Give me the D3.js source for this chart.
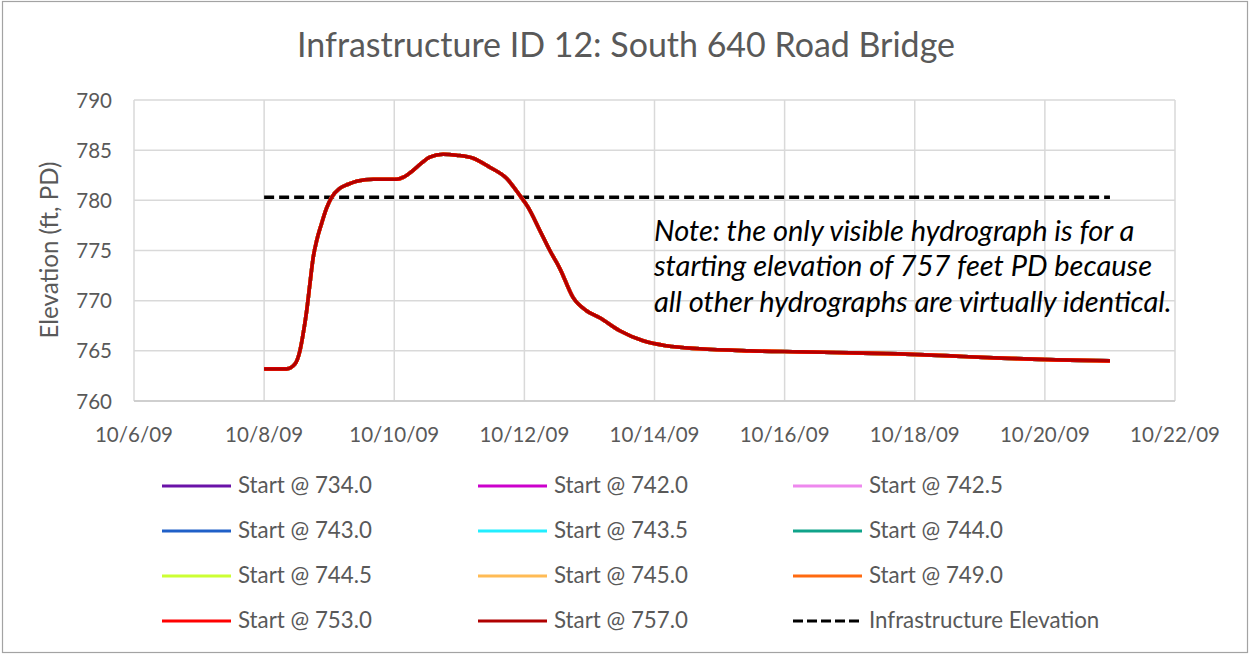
<!DOCTYPE html>
<html>
<head>
<meta charset="utf-8">
<script src="https://cdn.jsdelivr.net/npm/d3@7/dist/d3.min.js"></script>
<style>
  html, body { margin: 0; padding: 0; background: #fff; }
  svg { display: block; }
  text { font-family: Lato, "Open Sans", sans-serif; }
</style>
</head>
<body>
<svg id="chart" width="1249" height="655"></svg>
<script>
// Hydrograph at the South 640 Road Bridge, starting 10/8/09 00:00
const hoursFromStart = [0, 4, 8.3, 11.4, 13.2, 14.4, 15.7, 16.9, 18.1, 19.4, 21.2, 23.0, 24.9, 27.9, 31, 34.1,
  40.2, 48.8, 51.3, 55.0, 58, 61.1, 66.0, 71.0, 77.1, 83.2, 89.4, 94.3, 97.4, 101.7, 105.4, 109.1,
  114.0, 118.9, 123.8, 131.2, 139.8, 148.4, 160.7, 179.1, 197.5, 216, 234, 253, 269, 292, 312];
const elevation = [763.2, 763.2, 763.2, 763.7, 765.0, 766.7, 769.0, 771.7, 774.3, 776.0, 777.7, 779.2, 780.3, 781.2, 781.6, 781.9,
  782.1, 782.1, 782.3, 783.0, 783.7, 784.3, 784.6, 784.5, 784.2, 783.3, 782.2, 780.5, 779.3, 777.0, 775.0, 773.2,
  770.3, 769.0, 768.3, 767.0, 766.0, 765.5, 765.2, 765.0, 764.9, 764.8, 764.7, 764.5, 764.3, 764.1, 764.0];

// Starting-elevation scenarios; all produce the same hydrograph
const seriesNames = ["Start @ 734.0", "Start @ 742.0", "Start @ 742.5", "Start @ 743.0", "Start @ 743.5", "Start @ 744.0",
  "Start @ 744.5", "Start @ 745.0", "Start @ 749.0", "Start @ 753.0", "Start @ 757.0"];
const seriesColors = ["#6a12a8", "#cc00cc", "#ee88ee", "#2060c8", "#22eeff", "#10a38a",
  "#ccff33", "#ffbb55", "#ff6a10", "#ff0000", "#b00000"];

const infraElevation = 780.3;
const infraName = "Infrastructure Elevation";
const infraStartHour = 0, infraEndHour = 312;

const xTickLabels = ["10/6/09", "10/8/09", "10/10/09", "10/12/09", "10/14/09", "10/16/09", "10/18/09", "10/20/09", "10/22/09"];
const yTicks = [760, 765, 770, 775, 780, 785, 790];

const titleText = "Infrastructure ID 12: South 640 Road Bridge";
const yTitle = "Elevation (ft, PD)";
const noteLines = ["Note: the only visible hydrograph is for a",
  "starting elevation of 757 feet PD because",
  "all other hydrographs are virtually identical."];

const parseDate = d3.timeParse("%m/%d/%y");
const xTicks = xTickLabels.map(parseDate);
const startDate = parseDate("10/8/09");

const svg = d3.select("#chart");
const plot = { left: 134, right: 1175, top: 100, bottom: 401 };

const x = d3.scaleTime().domain(d3.extent(xTicks)).range([plot.left, plot.right]);
const y = d3.scaleLinear().domain(d3.extent(yTicks)).range([plot.bottom, plot.top]);
const toDate = h => new Date(startDate.getTime() + h * 3600e3);

// font size that makes a sample string span the given width
function fitSize(str, width, opts = {}) {
  const t = svg.append("text").attr("font-size", 100).text(str);
  if (opts.italic) t.attr("font-style", "italic");
  const w = t.node().getComputedTextLength();
  t.remove();
  return 100 * width / w;
}

// outer frame
svg.append("rect").attr("x", 2.5).attr("y", 1.5).attr("width", 1245).attr("height", 651)
  .attr("fill", "#fff").attr("stroke", "#a3a3a3").attr("stroke-width", 1.2);

// title
svg.append("text").attr("x", 626).attr("y", 57).attr("text-anchor", "middle")
  .attr("font-size", fitSize(titleText, 658)).attr("fill", "#595959").text(titleText);

// gridlines
svg.append("g").selectAll("line").data(yTicks).join("line")
  .attr("x1", plot.left).attr("x2", plot.right).attr("y1", d => y(d)).attr("y2", d => y(d))
  .attr("stroke", "#d9d9d9").attr("stroke-width", 1.5);
svg.append("g").selectAll("line").data(xTicks).join("line")
  .attr("x1", d => x(d)).attr("x2", d => x(d)).attr("y1", plot.top).attr("y2", plot.bottom)
  .attr("stroke", "#d9d9d9").attr("stroke-width", 1.5);
// axis baseline
svg.append("line").attr("x1", plot.left).attr("x2", plot.right).attr("y1", plot.bottom).attr("y2", plot.bottom)
  .attr("stroke", "#c8c8c8").attr("stroke-width", 1.5);

// tick labels
const tickSize = fitSize("10/10/09", 90);
svg.append("g").selectAll("text").data(xTicks).join("text")
  .attr("x", d => x(d)).attr("y", 442).attr("text-anchor", "middle")
  .attr("font-size", tickSize).attr("fill", "#595959").text((d, i) => xTickLabels[i]);
svg.append("g").selectAll("text").data(yTicks).join("text")
  .attr("x", 112).attr("y", d => y(d) + 7.5).attr("text-anchor", "end")
  .attr("font-size", tickSize).attr("fill", "#595959").text(d => d);

// y axis title
svg.append("text").attr("transform", "translate(58,250) rotate(-90)").attr("text-anchor", "middle")
  .attr("font-size", fitSize(yTitle, 177)).attr("fill", "#595959").text(yTitle);

// infrastructure elevation
svg.append("line")
  .attr("x1", x(toDate(infraStartHour))).attr("x2", x(toDate(infraEndHour)))
  .attr("y1", y(infraElevation)).attr("y2", y(infraElevation))
  .attr("stroke", "#000").attr("stroke-width", 3.4).attr("stroke-dasharray", "10,5");

// hydrographs
const pts = hoursFromStart.map((h, i) => ({ t: toDate(h), v: elevation[i] }));
const line = d3.line().x(d => x(d.t)).y(d => y(d.v)).curve(d3.curveMonotoneX);
svg.append("g").selectAll("path").data(seriesNames).join("path")
  .attr("d", line(pts)).attr("fill", "none")
  .attr("stroke", (d, i) => seriesColors[i]).attr("stroke-width", (d, i) => i === seriesNames.length - 1 ? 3 : 3.6)
  .attr("stroke-linejoin", "round");

// note
const noteSize = fitSize(noteLines[2], 518, { italic: true });
svg.append("g").selectAll("text").data(noteLines).join("text")
  .attr("x", 654).attr("y", (d, i) => 241 + i * 35.3)
  .attr("font-size", noteSize).attr("font-style", "italic").attr("fill", "#000").text(d => d);

// legend
const legendItems = seriesNames.map((n, i) => ({ name: n, color: seriesColors[i], dash: null }))
  .concat([{ name: infraName, color: "#000", dash: "10,4" }]);
const colX = [162, 478, 793];
const rowY = [486, 531, 576, 621];
const legSize = fitSize("Start @ 734.0", 134);
const lg = svg.append("g").selectAll("g").data(legendItems).join("g")
  .attr("transform", (d, i) => `translate(${colX[i % 3]},${rowY[Math.floor(i / 3)]})`);
lg.append("line").attr("x1", 0).attr("x2", 69).attr("y1", 0).attr("y2", 0)
  .attr("stroke", d => d.color).attr("stroke-width", 3.2)
  .attr("stroke-dasharray", d => d.dash);
lg.append("text").attr("x", 76).attr("y", 7).attr("font-size", legSize).attr("fill", "#595959").text(d => d.name);
</script>
</body>
</html>
